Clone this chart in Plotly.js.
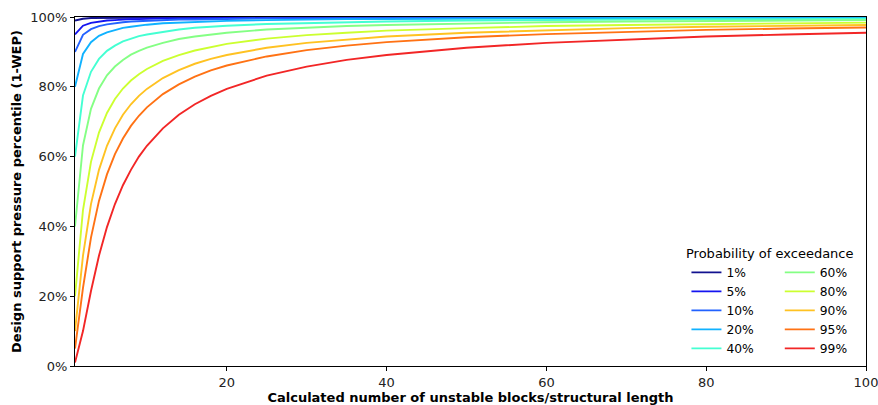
<!DOCTYPE html>
<html>
<head>
<meta charset="utf-8">
<script src="https://cdn.plot.ly/plotly-3.0.1.min.js"></script>
<style>html,body{margin:0;padding:0;background:#fff;}#chart{width:878px;height:405px;}</style>
</head>
<body>
<div id="chart"></div>
<script>
// Number of unstable blocks (x)
const blocks = [1,2,3,4,5,6,7,8,9,10,12,14,16,18,20,25,30,35,40,50,60,70,80,90,100];

// Series labels (probability of exceedance)
const seriesNames = ["1%","5%","10%","20%","40%","60%","80%","90%","95%","99%"];
const seriesColors = ["#12128f","#1414f0","#2262ff","#10b2ff","#44ffd2","#84ff84","#ccff30","#ffc222","#ff7214","#f22626"];

// Design support pressure percentile (%)
const p01 = [99.0,99.5,99.7,99.7,99.8,99.8,99.9,99.9,99.9,99.9,99.9,99.9,99.9,99.9,100.0,100.0,100.0,100.0,100.0,100.0,100.0,100.0,100.0,100.0,100.0];
const p05 = [95.0,97.5,98.3,98.7,99.0,99.1,99.3,99.4,99.4,99.5,99.6,99.6,99.7,99.7,99.7,99.8,99.8,99.9,99.9,99.9,99.9,99.9,99.9,99.9,99.9];
const p10 = [90.0,94.9,96.5,97.4,97.9,98.3,98.5,98.7,98.8,99.0,99.1,99.3,99.3,99.4,99.5,99.6,99.6,99.7,99.7,99.8,99.8,99.8,99.9,99.9,99.9];
const p20 = [80.0,89.4,92.8,94.6,95.6,96.3,96.9,97.2,97.6,97.8,98.2,98.4,98.6,98.8,98.9,99.1,99.3,99.4,99.4,99.6,99.6,99.7,99.7,99.8,99.8];
const p40 = [60.0,77.5,84.3,88.0,90.3,91.8,93.0,93.8,94.5,95.0,95.8,96.4,96.9,97.2,97.5,98.0,98.3,98.6,98.7,99.0,99.2,99.3,99.4,99.4,99.5];
const p60 = [40.0,63.2,73.7,79.5,83.3,85.8,87.7,89.2,90.3,91.2,92.6,93.7,94.4,95.0,95.5,96.4,97.0,97.4,97.7,98.2,98.5,98.7,98.9,99.0,99.1];
const p80 = [20.0,44.7,58.5,66.9,72.5,76.5,79.5,81.8,83.6,85.1,87.4,89.1,90.4,91.4,92.3,93.8,94.8,95.5,96.1,96.8,97.4,97.7,98.0,98.2,98.4];
const p90 = [10.0,31.6,46.4,56.2,63.1,68.1,72.0,75.0,77.4,79.4,82.5,84.8,86.6,88.0,89.1,91.2,92.6,93.6,94.4,95.5,96.2,96.8,97.2,97.5,97.7];
const p95 = [5.0,22.4,36.8,47.3,54.9,60.7,65.2,68.8,71.7,74.1,77.9,80.7,82.9,84.7,86.1,88.7,90.5,91.8,92.8,94.2,95.1,95.8,96.3,96.7,97.0];
const p99 = [1.0,10.0,21.5,31.6,39.8,46.4,51.8,56.2,60.0,63.1,68.1,72.0,75.0,77.4,79.4,83.2,85.8,87.7,89.1,91.2,92.6,93.6,94.4,95.0,95.5];

const yTickVals = [0,20,40,60,80,100];
const yTickText = ["0%","20%","40%","60%","80%","100%"];
const xTickVals = [20,40,60,80,100];
const xTickText = ["20","40","60","80","100"];

const seriesValues = [p01,p05,p10,p20,p40,p60,p80,p90,p95,p99];

const FONT = "DejaVu Sans, Arial, sans-serif";
const FS = 13;

const traces = seriesValues.map((vals, i) => ({
  x: blocks,
  y: vals,
  type: "scatter",
  mode: "lines",
  name: seriesNames[i],
  line: {color: seriesColors[i], width: 1.9},
  legend: i < 5 ? "legend" : "legend2"
}));

const legendCommon = {
  orientation: "v",
  bgcolor: "rgba(255,255,255,0)",
  borderwidth: 0,
  font: {family: FONT, size: 12.3, color: "#000"},
  yanchor: "bottom",
  xanchor: "left",
  itemwidth: 30,
  tracegroupgap: 0
};

const layout = {
  width: 878,
  height: 405,
  margin: {l: 75, r: 12, t: 17, b: 39},
  paper_bgcolor: "#fff",
  plot_bgcolor: "#fff",
  font: {family: FONT, size: FS, color: "#000"},
  showlegend: true,
  xaxis: {
    range: [1, 100],
    tickmode: "array",
    tickvals: xTickVals,
    ticktext: xTickText,
    ticklabeloverflow: "allow",
    ticks: "outside",
    ticklen: 4,
    tickwidth: 1,
    tickcolor: "#000",
    showline: true,
    mirror: true,
    linecolor: "#000",
    linewidth: 1,
    showgrid: false,
    zeroline: false,
    tickfont: {family: FONT, size: FS, color: "#222"},
    title: {text: "<b>Calculated number of unstable blocks/structural length</b>", font: {family: FONT, size: FS, color: "#000"}, standoff: 3}
  },
  yaxis: {
    range: [0, 100],
    tickmode: "array",
    tickvals: yTickVals,
    ticktext: yTickText,
    ticklabeloverflow: "allow",
    ticks: "outside",
    ticklen: 4,
    tickwidth: 1,
    tickcolor: "#000",
    showline: true,
    mirror: true,
    linecolor: "#000",
    linewidth: 1,
    showgrid: false,
    zeroline: false,
    tickfont: {family: FONT, size: FS, color: "#222"},
    title: {text: "<b>Design support pressure percentile (1-WEP)</b>", font: {family: FONT, size: FS, color: "#000"}, standoff: 5}
  },
  legend: Object.assign({}, legendCommon, {x: 0.773, y: 0.009}),
  legend2: Object.assign({}, legendCommon, {x: 0.891, y: 0.009}),
  annotations: [{
    text: "Probability of exceedance",
    xref: "paper", yref: "paper",
    x: 0.879, y: 0.322,
    xanchor: "center", yanchor: "middle",
    showarrow: false,
    font: {family: FONT, size: FS, color: "#000"}
  }]
};

Plotly.newPlot("chart", traces, layout, {displayModeBar: false, staticPlot: true});
</script>
</body>
</html>
